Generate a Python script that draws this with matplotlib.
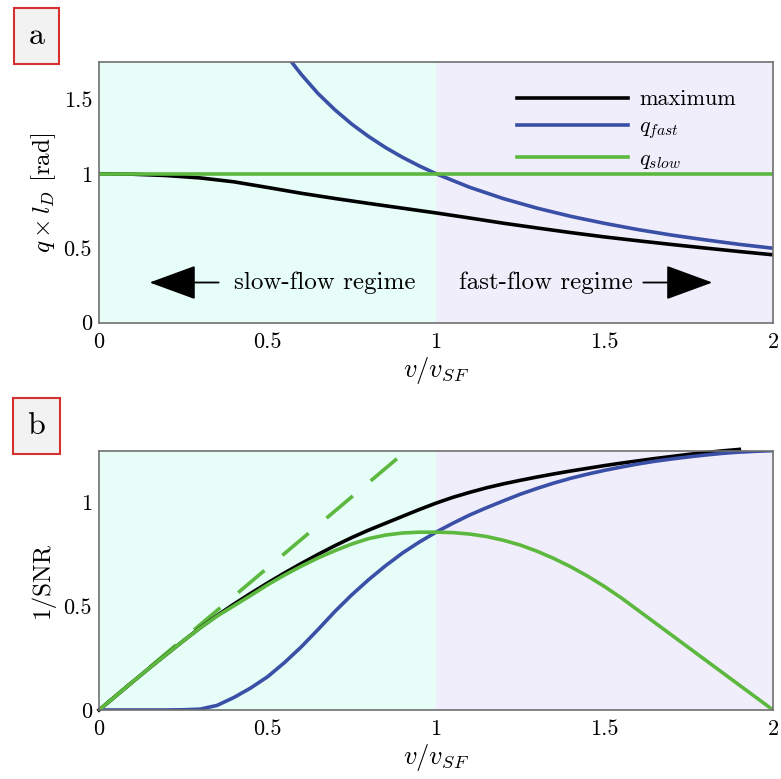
import matplotlib.pyplot as plt

plt.rcParams['font.family'] = ['cmr10', 'DejaVu Serif']
plt.rcParams['mathtext.fontset'] = 'cm'
plt.rcParams['axes.formatter.use_mathtext'] = True

# ---- data ----
v = [0.0, 0.1, 0.2, 0.3, 0.4, 0.5, 0.6, 0.7, 0.8, 0.9, 1.0,
     1.1, 1.2, 1.3, 1.4, 1.5, 1.6, 1.7, 1.8, 1.9, 2.0]

# panel a: optimal q times l_D
qa_max = [1.000, 0.997, 0.988, 0.972, 0.946, 0.908, 0.869, 0.834, 0.801, 0.769, 0.737,
          0.703, 0.668, 0.636, 0.605, 0.576, 0.550, 0.525, 0.501, 0.478, 0.456]
v_fast_a = [0.57, 0.6, 0.65, 0.7, 0.75, 0.8, 0.85, 0.9, 0.95, 1.0, 1.1, 1.2, 1.3,
            1.4, 1.5, 1.6, 1.7, 1.8, 1.9, 2.0]
qa_fast = [1.754, 1.667, 1.538, 1.429, 1.333, 1.250, 1.176, 1.111, 1.053, 1.000, 0.909,
           0.833, 0.769, 0.714, 0.667, 0.625, 0.588, 0.556, 0.526, 0.500]
qa_slow = [1.0] * len(v)

# panel b: 1/SNR
vb = [0.0, 0.05, 0.1, 0.15, 0.2, 0.25, 0.3, 0.35, 0.4, 0.45, 0.5, 0.55, 0.6, 0.65,
      0.7, 0.75, 0.8, 0.85, 0.9, 0.95, 1.0, 1.05, 1.1, 1.15, 1.2, 1.25, 1.3, 1.35,
      1.4, 1.45, 1.5, 1.55, 1.6, 1.65, 1.7, 1.75, 1.8, 1.85, 1.9, 1.95, 2.0]
snr_max = [0.0, 0.068, 0.136, 0.203, 0.268, 0.333, 0.396, 0.455, 0.51, 0.562, 0.612,
           0.66, 0.706, 0.75, 0.792, 0.831, 0.867, 0.9, 0.933, 0.966, 0.997, 1.025,
           1.049, 1.071, 1.09, 1.107, 1.123, 1.138, 1.152, 1.165, 1.178, 1.19, 1.201,
           1.212, 1.222, 1.232, 1.241, 1.249, 1.256]
snr_fast = [0.0, 0.0, 0.0, 0.0, 0.0, 0.001, 0.004, 0.022, 0.06, 0.106, 0.16, 0.228,
            0.304, 0.388, 0.475, 0.555, 0.628, 0.695, 0.756, 0.809, 0.857, 0.90, 0.94,
            0.975, 1.008, 1.04, 1.068, 1.094, 1.117, 1.137, 1.155, 1.171, 1.186, 1.199,
            1.21, 1.22, 1.229, 1.237, 1.243, 1.247, 1.25]
snr_slow = [0.0, 0.068, 0.136, 0.203, 0.268, 0.333, 0.395, 0.452, 0.502, 0.552, 0.603,
            0.65, 0.693, 0.733, 0.768, 0.8, 0.826, 0.843, 0.853, 0.857, 0.857, 0.855,
            0.848, 0.836, 0.818, 0.795, 0.765, 0.73, 0.69, 0.645, 0.595, 0.54, 0.48,
            0.42, 0.36, 0.30, 0.24, 0.18, 0.12, 0.06, 0.0]
v_lin = [0.884, 0.0]
snr_lin = [1.211, 0.0]

xticks = [0, 0.5, 1, 1.5, 2]
xticklabels = ['0', '0.5', '1', '1.5', '2']

c_black = 'black'
c_blue = '#3a4fa6'
c_green = '#5cb83e'
bg_slow = '#e6fdf8'
bg_fast = '#f1eefc'
spine_col = '#707070'
lw = 2.6

fig = plt.figure(figsize=(7.81, 7.79), dpi=100)
ax1 = fig.add_axes([0.1268, 0.5857, 0.8630, 0.3347])
ax2 = fig.add_axes([0.1268, 0.0886, 0.8630, 0.3329])

for ax in (ax1, ax2):
    ax.axvspan(0, 1, color=bg_slow, lw=0, zorder=0)
    ax.axvspan(1, 2, color=bg_fast, lw=0, zorder=0)
    ax.set_xlim(0, 2)
    ax.set_xticks(xticks)
    ax.set_xticklabels(xticklabels)
    ax.tick_params(length=0, labelsize=16, pad=7)
    ax.tick_params(axis='y', pad=5)
    for s in ax.spines.values():
        s.set_color(spine_col)
        s.set_linewidth(1.2)
    ax.set_xlabel('$v/v_{SF}$', fontsize=19, labelpad=2)

# panel a
ax1.plot(v, qa_max, color=c_black, lw=lw, label='maximum')
ax1.plot(v_fast_a, qa_fast, color=c_blue, lw=lw, label='$q_{fast}$')
ax1.plot(v, qa_slow, color=c_green, lw=lw, label='$q_{slow}$')
ax1.set_ylim(0, 1.75)
ax1.set_yticks([0, 0.5, 1, 1.5])
ax1.set_yticklabels(['0', '0.5', '1', '1.5'])
ax1.set_ylabel(r'$q \times l_D$ [rad]', fontsize=18, labelpad=4)
ax1.legend(loc='upper right', bbox_to_anchor=(0.975, 0.97), frameon=False,
           fontsize=16, handlelength=5.0, handletextpad=0.5, labelspacing=0.35)

ax1.text(0.67, 0.27, 'slow-flow regime', fontsize=18, ha='center', va='center')
ax1.text(1.325, 0.27, 'fast-flow regime', fontsize=18, ha='center', va='center')
arrow = dict(arrowstyle='-|>,head_length=1.5,head_width=0.55', color='black',
             lw=1.3, shrinkA=0, shrinkB=0, mutation_scale=20)
ax1.annotate('', xy=(0.15, 0.27), xytext=(0.355, 0.27), arrowprops=arrow)
ax1.annotate('', xy=(1.82, 0.27), xytext=(1.615, 0.27), arrowprops=arrow)

# panel b
ax2.plot(v_lin, snr_lin, color=c_green, lw=lw, dashes=(9.5, 6.5))
ax2.plot(vb[:len(snr_max)], snr_max, color=c_black, lw=lw, clip_on=False)
ax2.plot(vb, snr_fast, color=c_blue, lw=lw)
ax2.plot(vb, snr_slow, color=c_green, lw=lw)
ax2.set_ylim(0, 1.25)
ax2.set_yticks([0, 0.5, 1])
ax2.set_yticklabels(['0', '0.5', '1'])
ax2.set_ylabel('1/SNR', fontsize=18, labelpad=6)

# panel letters
box = dict(boxstyle='square,pad=0.45', facecolor='#f2f2f2', edgecolor='#d8302f', lw=1.5)
fig.text(36.5 / 781, 1 - 36 / 779, 'a', fontsize=23, ha='center', va='center', bbox=box)
fig.text(36.5 / 781, 1 - 426 / 779, 'b', fontsize=23, ha='center', va='center', bbox=box)

fig.savefig('out.png', dpi=100)
